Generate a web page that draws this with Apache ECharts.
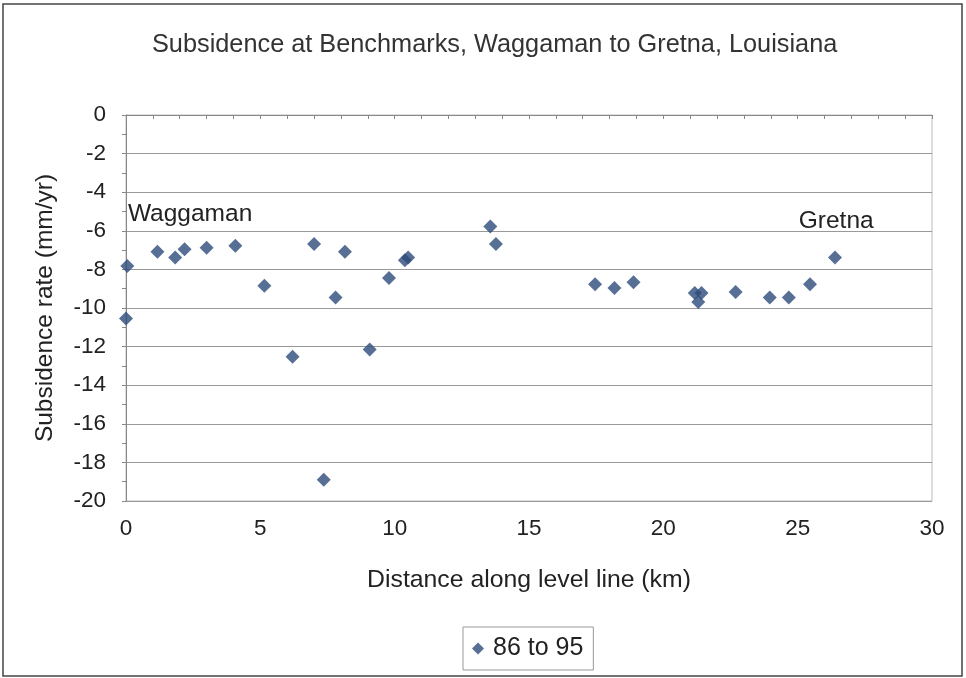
<!DOCTYPE html>
<html>
<head>
<meta charset="utf-8">
<script src="https://cdn.jsdelivr.net/npm/echarts@6/dist/echarts.min.js"></script>
<style>
  html, body { margin: 0; padding: 0; background: #fff; }
  #chart { width: 966px; height: 678px; }
</style>
</head>
<body>
<div id="chart"></div>
<script>
// benchmark positions along the level line (km) and subsidence rate (mm/yr), 86 to 95
var distanceKm = [0.05, 0, 1.17, 1.83, 2.18, 3.0, 4.07, 5.15, 6.2, 7.0, 7.36, 7.8, 8.15, 9.07, 9.79,
  10.38, 10.5, 13.56, 13.77, 17.46, 18.18, 18.89, 21.17, 21.42, 21.3, 22.69, 23.96, 24.67, 25.46, 26.39];
var rateMmYr = [-7.83, -10.54, -7.08, -7.38, -6.96, -6.88, -6.77, -8.85, -12.52, -6.68, -18.9, -9.46, -7.08, -12.15, -8.44,
  -7.52, -7.38, -5.78, -6.68, -8.77, -8.97, -8.66, -9.22, -9.22, -9.69, -9.17, -9.46, -9.46, -8.77, -7.38];

// place names written on the plot
var placeNames = ['Waggaman', 'Gretna'];
var placeX = [0.07, 25.04];
var placeY = [-5.16, -5.53];

var seriesName = '86 to 95';

var points = distanceKm.map(function (d, i) { return [d, rateMmYr[i]]; });
var placeMarks = placeNames.map(function (n, i) {
  return { name: n, coord: [placeX[i], placeY[i]] };
});

var font = 'Liberation Sans, Arial, sans-serif';
var chart = echarts.init(document.getElementById('chart'));

chart.setOption({
  animation: false,
  backgroundColor: '#fff',
  textStyle: { fontFamily: font },
  title: {
    text: 'Subsidence at Benchmarks, Waggaman to Gretna, Louisiana',
    left: 147,
    top: 28,
    textStyle: { fontFamily: font, fontSize: 25.3, fontWeight: 'normal', color: '#333' }
  },
  legend: {
    data: [{ name: seriesName, icon: 'diamond' }],
    left: 463,
    top: 627,
    padding: [9, 10, 9, 9],
    itemWidth: 12,
    itemHeight: 12,
    borderColor: '#999',
    borderWidth: 1,
    textStyle: { fontFamily: font, fontSize: 25, color: '#222', padding: [0, 0, 0, 4] }
  },
  grid: {
    left: 126,
    right: 34,
    top: 115,
    bottom: 177,
    show: true,
    borderColor: '#bbb',
    borderWidth: 1
  },
  xAxis: {
    type: 'value',
    min: 0,
    max: 30,
    interval: 5,
    name: 'Distance along level line (km)',
    nameLocation: 'middle',
    nameGap: 67,
    nameTextStyle: { fontFamily: font, fontSize: 24.8, color: '#222' },
    axisLine: { lineStyle: { color: '#888' } },
    axisTick: { length: 4, lineStyle: { color: '#888' } },
    minorTick: { show: true, splitNumber: 5, length: 4, lineStyle: { color: '#888' } },
    axisLabel: { margin: 16, fontFamily: font, fontSize: 22.5, color: '#222' },
    splitLine: { show: false }
  },
  yAxis: {
    type: 'value',
    min: -20,
    max: 0,
    interval: 2,
    name: 'Subsidence rate (mm/yr)',
    nameLocation: 'middle',
    nameGap: 68,
    nameTextStyle: { fontFamily: font, fontSize: 24.5, color: '#222' },
    axisLine: { show: true, lineStyle: { color: '#888' } },
    axisTick: { show: true, length: 4, lineStyle: { color: '#888' } },
    minorTick: { show: true, splitNumber: 2, length: 4, lineStyle: { color: '#888' } },
    axisLabel: { margin: 20, fontFamily: font, fontSize: 22.5, color: '#222' },
    splitLine: { show: true, lineStyle: { color: '#999', width: 1 } }
  },
  series: [{
    name: seriesName,
    type: 'scatter',
    symbol: 'diamond',
    symbolSize: 14,
    itemStyle: { color: '#2d4a7a' },
    data: points,
    markPoint: {
      symbol: 'circle',
      symbolSize: 0,
      silent: true,
      label: {
        show: true,
        position: 'right',
        distance: 0,
        formatter: '{b}',
        fontFamily: font,
        fontSize: 24.5,
        color: '#222'
      },
      data: placeMarks
    }
  }],
  graphic: [{
    type: 'rect',
    silent: true,
    shape: { x: 3, y: 4, width: 959, height: 672 },
    style: { fill: 'none', stroke: '#444', lineWidth: 1.5 }
  }]
});
</script>
</body>
</html>
